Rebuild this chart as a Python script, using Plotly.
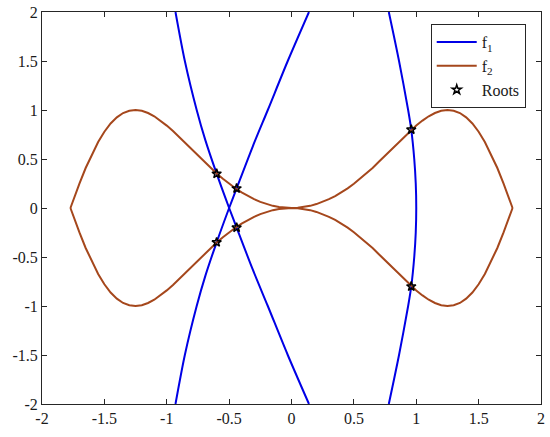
import plotly.graph_objects as go

# f2 curve, upper and lower halves
f2_x = [-1.772, -1.76, -1.74, -1.72, -1.7, -1.65, -1.6, -1.55, -1.5, -1.45, -1.4, -1.35, -1.3, -1.25,
        -1.2, -1.15, -1.1, -1.05, -1.0, -0.95, -0.9, -0.85, -0.8, -0.75, -0.7, -0.65, -0.6, -0.55,
        -0.5, -0.45, -0.4, -0.35, -0.3, -0.25, -0.2, -0.15, -0.1, -0.05, 0.0,
        0.05, 0.1, 0.15, 0.2, 0.25, 0.3, 0.35, 0.4, 0.45, 0.5, 0.55, 0.6, 0.65, 0.7, 0.75,
        0.8, 0.85, 0.9, 0.95, 1.0, 1.05, 1.1, 1.15, 1.2, 1.25, 1.3, 1.35, 1.4, 1.45, 1.5,
        1.55, 1.6, 1.65, 1.7, 1.72, 1.74, 1.76, 1.772]
f2_upper_y = [0.0, 0.044, 0.114, 0.182, 0.249, 0.408, 0.549, 0.674, 0.778, 0.862, 0.925, 0.969, 0.993, 1.0,
              0.992, 0.969, 0.936, 0.892, 0.841, 0.785, 0.724, 0.661, 0.597, 0.534, 0.471, 0.409, 0.352, 0.298,
              0.247, 0.201, 0.159, 0.122, 0.09, 0.062, 0.04, 0.022, 0.01, 0.003, 0.0,
              0.003, 0.01, 0.022, 0.04, 0.062, 0.09, 0.122, 0.159, 0.201, 0.247, 0.298, 0.352, 0.409, 0.471, 0.534,
              0.597, 0.661, 0.724, 0.785, 0.841, 0.892, 0.936, 0.969, 0.992, 1.0, 0.993, 0.969, 0.925, 0.862, 0.778,
              0.674, 0.549, 0.408, 0.249, 0.182, 0.114, 0.044, 0.0]
f2_lower_y = [0.0, -0.044, -0.114, -0.182, -0.249, -0.408, -0.549, -0.674, -0.778, -0.862, -0.925, -0.969, -0.993, -1.0,
              -0.992, -0.969, -0.936, -0.892, -0.841, -0.785, -0.724, -0.661, -0.597, -0.534, -0.471, -0.409, -0.352, -0.298,
              -0.247, -0.201, -0.159, -0.122, -0.09, -0.062, -0.04, -0.022, -0.01, -0.003, 0.0,
              -0.003, -0.01, -0.022, -0.04, -0.062, -0.09, -0.122, -0.159, -0.201, -0.247, -0.298, -0.352, -0.409, -0.471, -0.534,
              -0.597, -0.661, -0.724, -0.785, -0.841, -0.892, -0.936, -0.969, -0.992, -1.0, -0.993, -0.969, -0.925, -0.862, -0.778,
              -0.674, -0.549, -0.408, -0.249, -0.182, -0.114, -0.044, 0.0]

# f1 curve, three branches
f1_a_x = [-0.93, -0.855, -0.76, -0.69, -0.6, -0.5, -0.44, -0.31, -0.19, -0.03, 0.14]
f1_a_y = [2.0, 1.5, 1.0, 0.69, 0.35, 0.0, -0.2, -0.63, -1.0, -1.5, -2.0]
f1_b_x = [-0.93, -0.855, -0.76, -0.69, -0.6, -0.5, -0.44, -0.31, -0.19, -0.03, 0.14]
f1_b_y = [-2.0, -1.5, -1.0, -0.69, -0.35, 0.0, 0.2, 0.63, 1.0, 1.5, 2.0]
f1_c_x = [0.78, 0.862, 0.935, 0.96, 0.984, 0.996, 1.0, 0.996, 0.984, 0.96, 0.935, 0.862, 0.78]
f1_c_y = [2.0, 1.5, 1.0, 0.8, 0.5, 0.25, 0.0, -0.25, -0.5, -0.8, -1.0, -1.5, -2.0]

# roots
roots_x = [-0.6, -0.44, -0.6, -0.44, 0.96, 0.96]
roots_y = [0.35, 0.2, -0.35, -0.2, 0.8, -0.8]

tick_vals = [-2, -1.5, -1, -0.5, 0, 0.5, 1, 1.5, 2]
tick_text = ['-2', '-1.5', '-1', '-0.5', '0', '0.5', '1', '1.5', '2']

BLUE = '#0000E6'
RED = '#A5471C'
SERIF = 'Liberation Serif'

fig = go.Figure()

for i, (xs, ys) in enumerate([(f1_a_x, f1_a_y), (f1_b_x, f1_b_y), (f1_c_x, f1_c_y)]):
    fig.add_trace(go.Scatter(
        x=xs, y=ys, mode='lines',
        line=dict(color=BLUE, width=2, shape='spline', smoothing=0.8),
        name='f<sub>1</sub>', legendgroup='f1', showlegend=(i == 0)
    ))

for i, ys in enumerate([f2_upper_y, f2_lower_y]):
    fig.add_trace(go.Scatter(
        x=f2_x, y=ys, mode='lines',
        line=dict(color=RED, width=2),
        name='f<sub>2</sub>', legendgroup='f2', showlegend=(i == 0)
    ))

fig.add_trace(go.Scatter(
    x=roots_x, y=roots_y, mode='markers',
    marker=dict(symbol='star-open', size=7, color='black', line=dict(width=1.5)),
    name='Roots'
))

axis_style = dict(
    range=[-2, 2], automargin=False,
    tickvals=tick_vals, ticktext=tick_text,
    ticks='inside', ticklen=5, tickcolor='#262626',
    showline=True, linecolor='#262626', linewidth=1, mirror='ticks',
    showgrid=False, zeroline=False,
    tickfont=dict(family=SERIF, size=16, color='#1a1a1a'),
)

fig.update_layout(
    width=550, height=437,
    margin=dict(l=42, r=9, t=12, b=33),
    paper_bgcolor='white', plot_bgcolor='white',
    xaxis=axis_style, yaxis=axis_style,
    font=dict(family=SERIF, size=16, color='#1a1a1a'),
    legend=dict(
        x=0.779, y=0.969, xanchor='left', yanchor='top',
        bgcolor='white', bordercolor='#262626', borderwidth=1,
        font=dict(family=SERIF, size=16),
        tracegroupgap=0, itemwidth=40,
    ),
)

# drop the default page margin so the figure sits at the window corner
fig.write_html("out.html", config={'displayModeBar': False},
               post_script="document.body.style.margin = '0';")
